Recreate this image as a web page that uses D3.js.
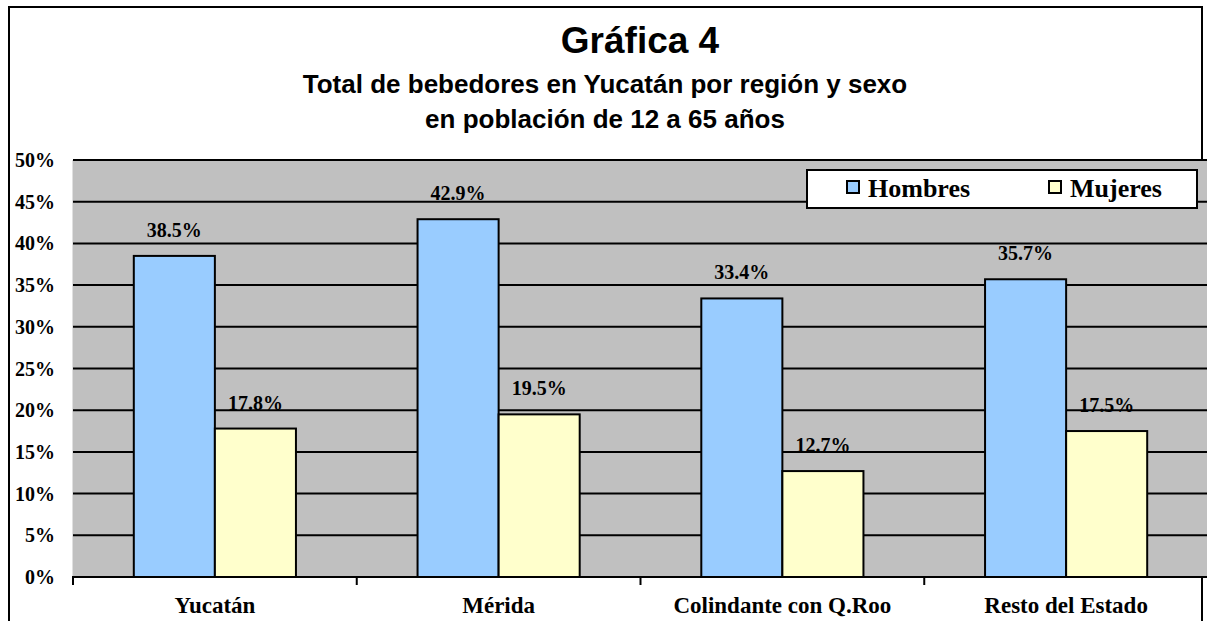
<!DOCTYPE html>
<html><head><meta charset="utf-8">
<script src="https://cdn.jsdelivr.net/npm/d3@7"></script>
<style>body{margin:0;background:#fff}svg{display:block}</style>
</head><body><svg id="c" width="1207" height="621"></svg>
<script>
const categories = ["Yucatán", "Mérida", "Colindante con Q.Roo", "Resto del Estado"];
const seriesNames = ["Hombres", "Mujeres"];
const hombres = [38.5, 42.9, 33.4, 35.7];
const mujeres = [17.8, 19.5, 12.7, 17.5];
const yTicks = [0, 5, 10, 15, 20, 25, 30, 35, 40, 45, 50];
const titleText = "Gráfica 4";
const subtitleLines = ["Total de bebedores en Yucatán por región y sexo", "en población de 12 a 65 años"];
const colors = ["#99CCFF", "#FFFFCC"];

const svg = d3.select("#c");
const serif = "'Liberation Serif','Times New Roman',serif";
const sans = "'Liberation Sans',Arial,sans-serif";

// chart area border
svg.append("rect").attr("x", 9).attr("y", 7).attr("width", 1193).attr("height", 640)
  .attr("fill", "#fff").attr("stroke", "#000").attr("stroke-width", 2);

const plot = {left: 73, right: 1208, top: 160, bottom: 577};
const x0 = d3.scaleBand().domain(categories).range([plot.left, plot.right]).paddingInner(0).paddingOuter(0);
const bw = x0.bandwidth() / 3.5;
const x1 = d3.scaleBand().domain(seriesNames).range([0.75 * bw, 2.75 * bw]);
const y = d3.scaleLinear().domain([0, 50]).range([plot.bottom, plot.top]);

// plot background
svg.append("rect").attr("x", plot.left).attr("y", plot.top).attr("width", 1207 - plot.left).attr("height", plot.bottom - plot.top)
  .attr("fill", "#C0C0C0");
svg.append("line").attr("x1", plot.left - 0.5).attr("x2", plot.left - 0.5).attr("y1", plot.top).attr("y2", plot.bottom)
  .attr("stroke", "#e0e0e0").attr("stroke-width", 1);

// gridlines
svg.append("g").selectAll("line").data(yTicks.filter(d => d > 0)).join("line")
  .attr("x1", plot.left).attr("x2", 1207).attr("y1", d => y(d)).attr("y2", d => y(d))
  .attr("stroke", "#000").attr("stroke-width", 2);

// y labels
svg.append("g").selectAll("text").data(yTicks).join("text")
  .attr("x", 55).attr("y", d => y(d)).attr("dy", "0.35em").attr("text-anchor", "end")
  .attr("font-family", serif).attr("font-weight", "bold").attr("font-size", 20).attr("fill", "#000")
  .text(d => d + "%");

// bars
const data = categories.map((c, i) => ({c, vals: [hombres[i], mujeres[i]]}));
const groups = svg.append("g").selectAll("g").data(data).join("g")
  .attr("transform", d => `translate(${x0(d.c)},0)`);
groups.selectAll("rect").data(d => d.vals.map((v, j) => ({v, s: seriesNames[j], j}))).join("rect")
  .attr("x", d => x1(d.s)).attr("width", x1.bandwidth())
  .attr("y", d => y(d.v)).attr("height", d => y(0) - y(d.v))
  .attr("fill", d => colors[d.j]).attr("stroke", "#000").attr("stroke-width", 2);
groups.selectAll("text").data(d => d.vals.map((v, j) => ({v, s: seriesNames[j], j}))).join("text")
  .attr("x", d => x1(d.s) + x1.bandwidth() / 2).attr("y", d => y(d.v) - 19)
  .attr("text-anchor", "middle")
  .attr("font-family", serif).attr("font-weight", "bold").attr("font-size", 20).attr("fill", "#000")
  .text(d => d.v.toFixed(1) + "%");

// x axis
svg.append("line").attr("x1", plot.left - 1).attr("x2", 1207).attr("y1", plot.bottom).attr("y2", plot.bottom)
  .attr("stroke", "#000").attr("stroke-width", 2);
svg.append("g").selectAll("line").data(categories).join("line")
  .attr("x1", d => x0(d)).attr("x2", d => x0(d)).attr("y1", plot.bottom).attr("y2", plot.bottom + 8)
  .attr("stroke", "#000").attr("stroke-width", 2);
svg.append("g").selectAll("text").data(categories).join("text")
  .attr("x", d => x0(d) + x0.bandwidth() / 2).attr("y", 613).attr("text-anchor", "middle")
  .attr("font-family", serif).attr("font-weight", "bold").attr("font-size", 23).attr("fill", "#000")
  .text(d => d);

// titles
svg.append("text").attr("x", 640).attr("y", 53).attr("text-anchor", "middle")
  .attr("font-family", sans).attr("font-weight", "bold").attr("font-size", 37).text(titleText);
svg.append("g").selectAll("text").data(subtitleLines).join("text")
  .attr("x", 605).attr("y", (d, i) => 93 + i * 35).attr("text-anchor", "middle")
  .attr("font-family", sans).attr("font-weight", "bold").attr("font-size", 26).text(d => d);

// legend
const lg = svg.append("g");
lg.append("rect").attr("x", 807).attr("y", 170).attr("width", 390).attr("height", 38)
  .attr("fill", "#fff").attr("stroke", "#000").attr("stroke-width", 2);
const legX = [847, 1049];
const items = lg.selectAll("g").data(seriesNames).join("g");
items.append("rect").attr("x", (d, i) => legX[i]).attr("y", 181).attr("width", 12).attr("height", 12)
  .attr("fill", (d, i) => colors[i]).attr("stroke", "#000").attr("stroke-width", 2);
items.append("text").attr("x", (d, i) => legX[i] + 21).attr("y", 197)
  .attr("font-family", serif).attr("font-weight", "bold").attr("font-size", 26).text(d => d);
</script></body></html>
